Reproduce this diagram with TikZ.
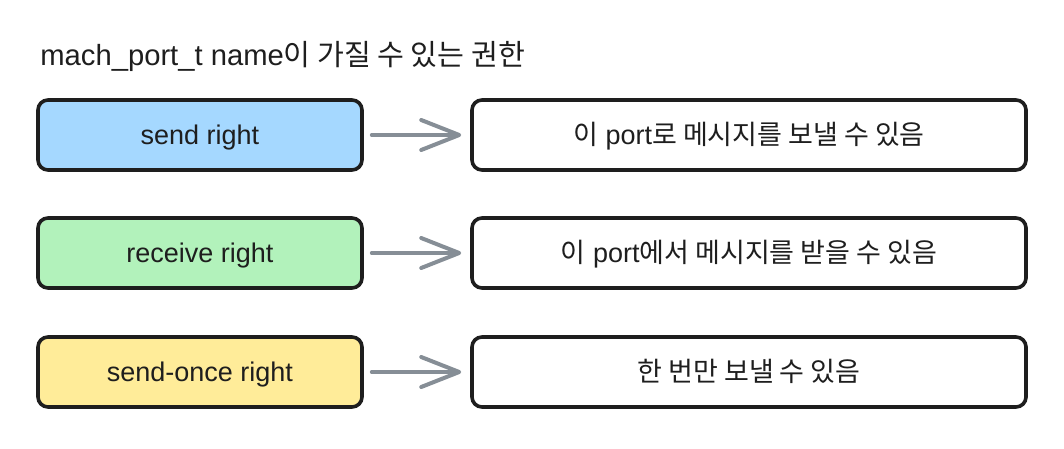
\documentclass[tikz,border=0pt]{standalone}
\usepackage{fontspec}
\setmainfont{Liberation Sans}
\newfontfamily\kr{Noto Sans CJK KR}
\usetikzlibrary{arrows.meta}
\definecolor{inkblack}{HTML}{1E1E1E}
\definecolor{sendblue}{HTML}{A5D8FF}
\definecolor{recvgreen}{HTML}{B2F2BB}
\definecolor{onceyellow}{HTML}{FFEC99}
\definecolor{arrowgray}{HTML}{868E96}
\tikzset{
  rightbox/.style={draw=inkblack, line width=1.8pt, rounded corners=5pt,
    minimum width=162pt, minimum height=35pt, text=inkblack,
    text height=12.5pt, text depth=3pt, font=\fontsize{13.5}{16}\selectfont},
  descbox/.style={rightbox, fill=white, minimum width=277pt},
  grayarrow/.style={draw=arrowgray, line width=2pt, line cap=round,
    -{Straight Barb[length=19pt,width=15pt,line cap=round,line join=round]},
    shorten <=4pt, shorten >=4.5pt}
}
\begin{document}
\begin{tikzpicture}[x=0.5pt,y=-0.5pt]
    \useasboundingbox (0,0) rectangle (1064,449);
    \node[anchor=base west, inner sep=0pt, text=inkblack, font=\fontsize{14.6}{17}\selectfont]
      (title) at (40,66) {mach\_port\_t name{\kr 이 가질 수 있는 권한}};
    % rights on the left
    \foreach \n/\y/\col/\lbl in {send/135/sendblue/send right,
        recv/253/recvgreen/receive right,
        once/372/onceyellow/send-once right}
      \node[rightbox, fill=\col] (\n) at (200,\y) {\lbl};
    % what each right allows
    \node[descbox] (sendD) at (749,135) {{\kr 이} port{\kr 로 메시지를 보낼 수 있음}};
    \node[descbox] (recvD) at (749,253) {{\kr 이} port{\kr 에서 메시지를 받을 수 있음}};
    \node[descbox] (onceD) at (749,372) {{\kr 한 번만 보낼 수 있음}};
    \foreach \n in {send,recv,once}
      \draw[grayarrow] (\n) -- (\n D);
  \end{tikzpicture}
\end{document}
